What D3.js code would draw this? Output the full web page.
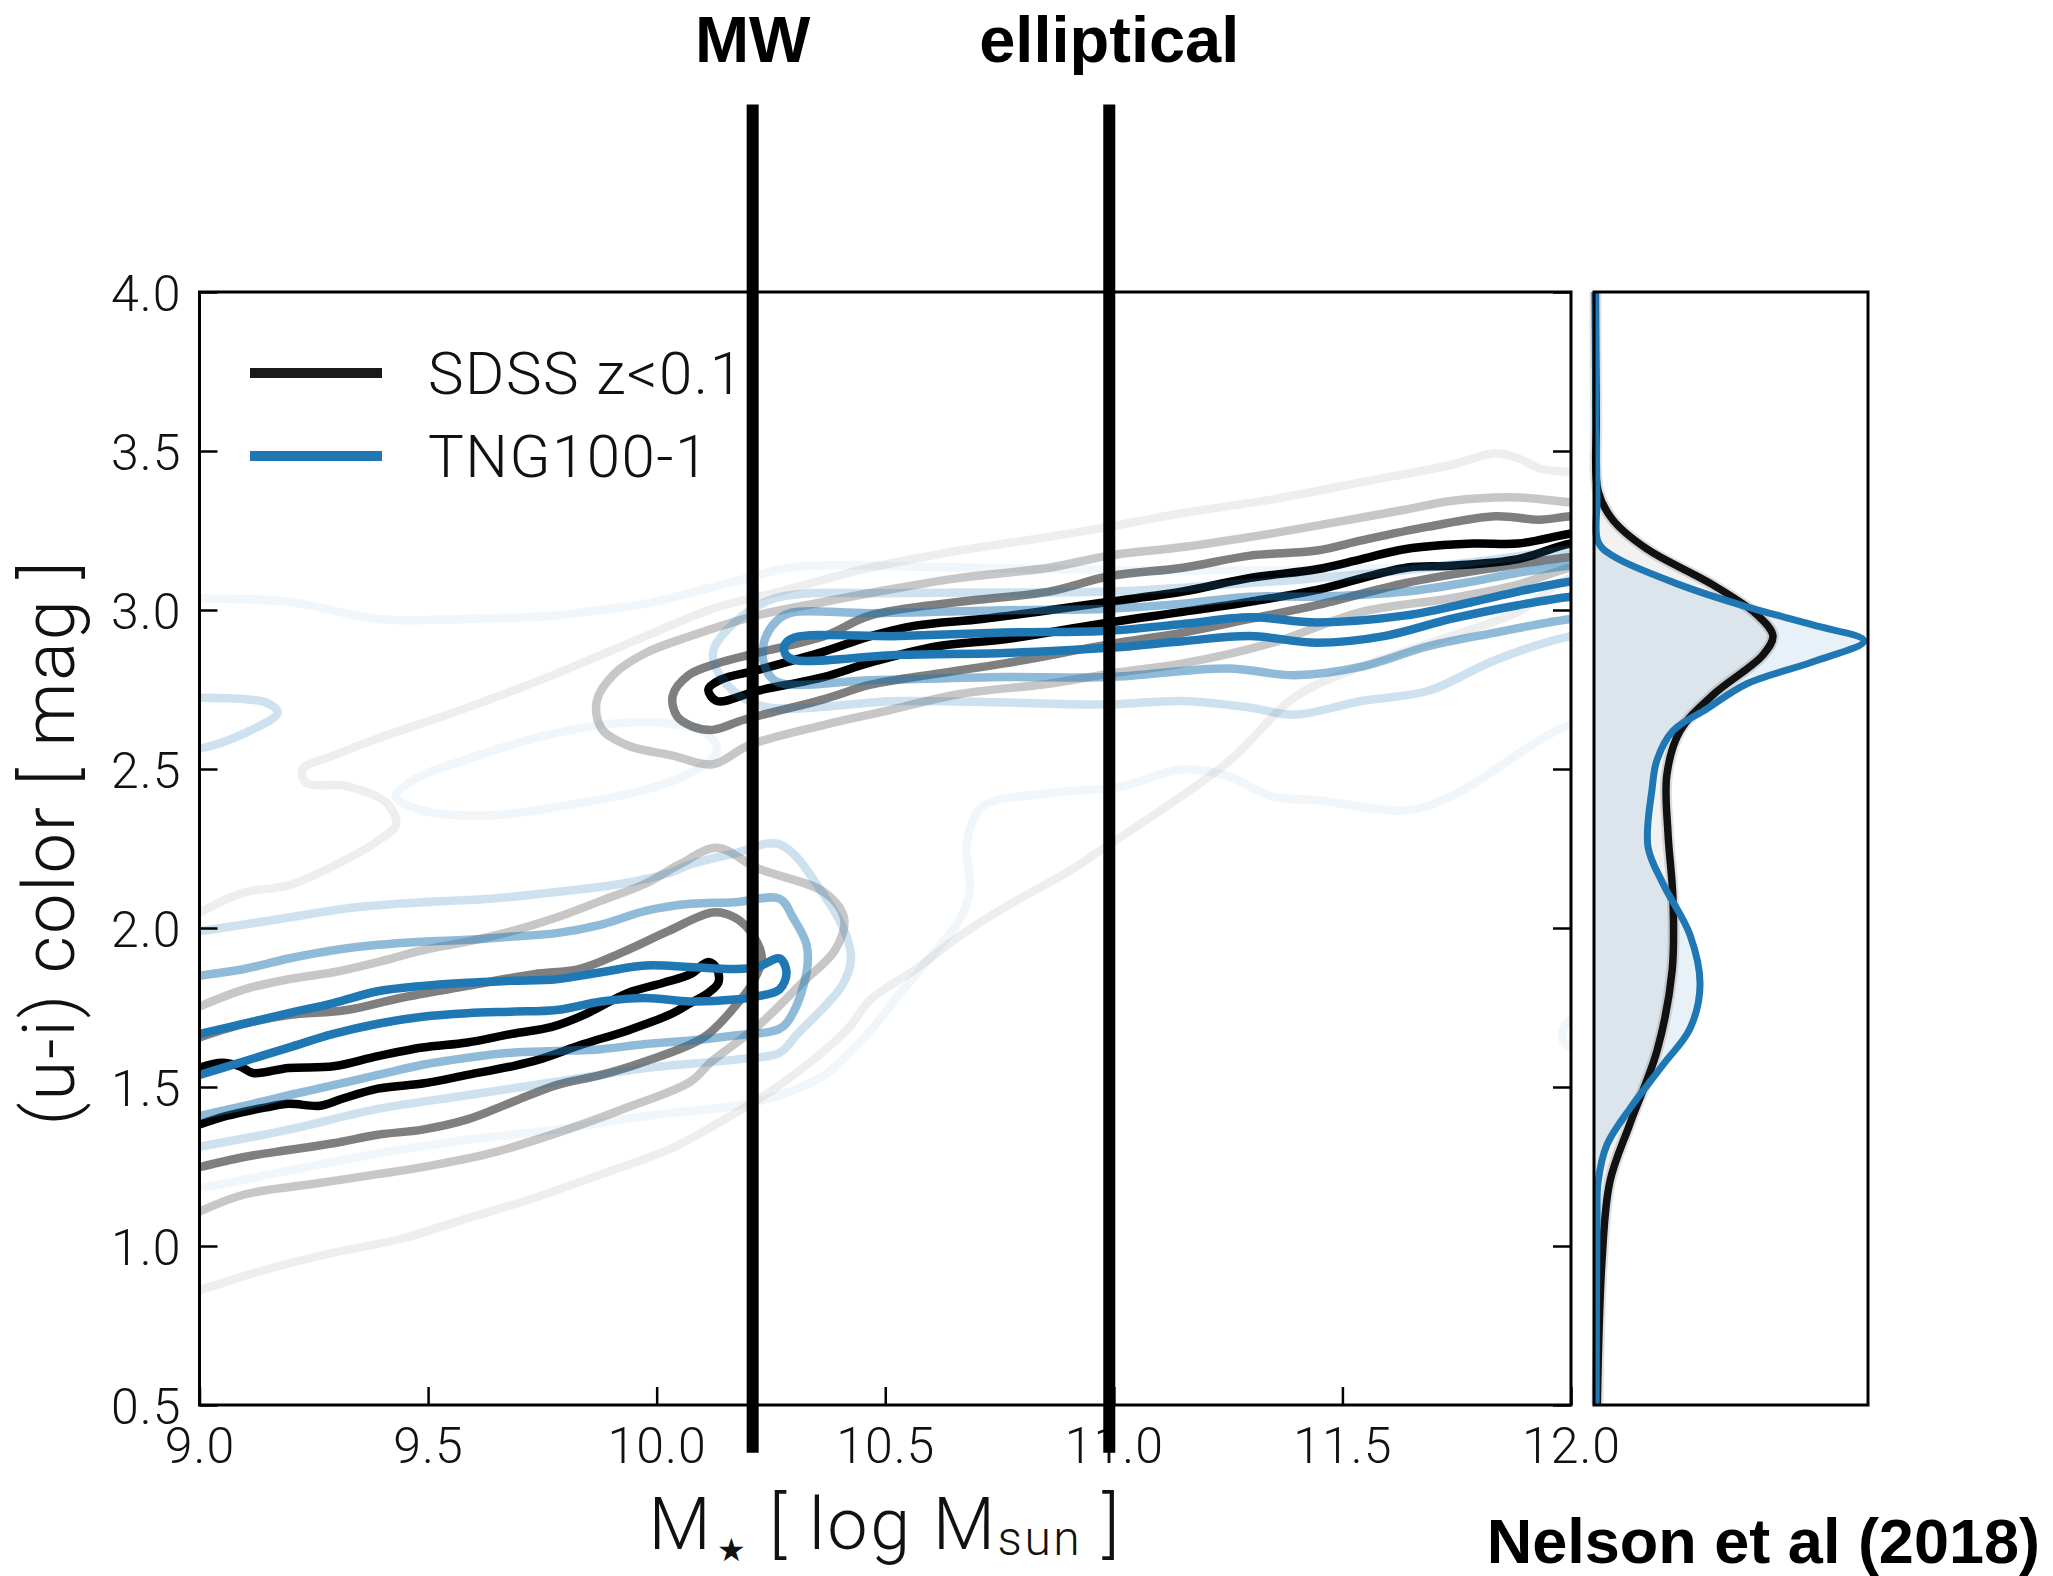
<!DOCTYPE html>
<html>
<head>
<meta charset="utf-8">
<script src="https://cdn.jsdelivr.net/npm/d3@7"></script>
<style>
  body { margin: 0; background: #fff; }
  .tick text { font-family: Roboto, "Open Sans", sans-serif; font-weight: 300; font-size: 50px; fill: #111; letter-spacing: 1px; }
  .tick line { stroke: #000; stroke-width: 2.5; }
  .domain { display: none; }
</style>
</head>
<body>
<div id="chart"></div>
<script>

/*****************************************/
/*   DATA       */
/*****************************************/

// tick labels
let xTicks = [9.0, 9.5, 10.0, 10.5, 11.0, 11.5, 12.0];
let yTicks = [0.5, 1.0, 1.5, 2.0, 2.5, 3.0, 3.5, 4.0];

// reference masses (MW, elliptical)
let markerNames = ["MW", "elliptical"];
let markerMass = [10.21, 10.99];
let markerSpan = [0.35, 4.59];

// legend
let seriesNames = ["SDSS z<0.1", "TNG100-1"];

// SDSS contours, [log M, u-i]; levels 1 (outer) .. 4 (inner)
let sdssL1 = [[9.0,2.048],[9.098,2.112],[9.195,2.134],[9.30,2.20],[9.39,2.274],[9.43,2.327],[9.41,2.392],[9.322,2.446],[9.234,2.456],[9.225,2.499],[9.293,2.542],[9.39,2.596],[9.586,2.693],[9.781,2.8],[9.976,2.918],[10.123,3.004],[10.269,3.058],[10.468,3.133],[10.663,3.187],[10.858,3.23],[10.99,3.262],[11.151,3.305],[11.347,3.348],[11.542,3.402],[11.737,3.456],[11.835,3.493],[11.884,3.477],[11.932,3.445],[12.0,3.434],[12.1,3.43],[12.1,3.09],[12.0,3.10],[11.884,2.994],[11.737,2.918],[11.542,2.822],[11.395,2.725],[11.249,2.521],[10.956,2.23],[10.907,2.183],[10.761,2.065],[10.663,1.975],[10.566,1.87],[10.468,1.775],[10.415,1.678],[10.269,1.506],[10.123,1.377],[10.025,1.302],[9.879,1.226],[9.732,1.151],[9.586,1.087],[9.439,1.022],[9.293,0.979],[9.146,0.926],[9.0,0.861]];
let sdssL2Blue = [[9.0,1.753],[9.098,1.807],[9.195,1.839],[9.293,1.861],[9.39,1.893],[9.488,1.93],[9.586,1.957],[9.683,1.99],[9.781,2.033],[9.879,2.086],[9.976,2.14],[10.05,2.2],[10.132,2.252],[10.22,2.188],[10.367,2.112],[10.41,2.03],[10.39,1.93],[10.32,1.83],[10.22,1.69],[10.12,1.58],[10.074,1.517],[9.927,1.431],[9.781,1.355],[9.635,1.291],[9.488,1.248],[9.39,1.226],[9.244,1.194],[9.098,1.162],[9.0,1.108]];
let sdssL2Red = [[12.1,3.33],[12.0,3.338],[11.884,3.354],[11.737,3.343],[11.639,3.316],[11.493,3.278],[11.347,3.241],[11.151,3.198],[10.99,3.171],[10.858,3.133],[10.663,3.101],[10.531,3.07],[10.367,3.026],[10.22,2.983],[10.074,2.918],[9.976,2.865],[9.908,2.8],[9.869,2.714],[9.879,2.628],[9.937,2.574],[10.035,2.542],[10.123,2.515],[10.201,2.574],[10.367,2.639],[10.5,2.682],[10.663,2.736],[10.858,2.768],[10.99,2.8],[11.151,2.832],[11.347,2.897],[11.542,2.994],[11.737,3.037],[11.884,3.08],[12.0,3.133],[12.1,3.15]];
let sdssL3Blue = [[9.0,1.656],[9.098,1.699],[9.195,1.726],[9.322,1.742],[9.439,1.78],[9.586,1.818],[9.732,1.855],[9.83,1.871],[9.927,1.925],[10.025,1.99],[10.123,2.049],[10.171,2.033],[10.21,1.979],[10.23,1.904],[10.21,1.828],[10.171,1.753],[10.103,1.656],[9.976,1.581],[9.879,1.538],[9.781,1.506],[9.683,1.452],[9.586,1.398],[9.488,1.366],[9.39,1.35],[9.293,1.323],[9.195,1.302],[9.098,1.28],[9.0,1.248]];
let sdssL3Red = [[12.1,3.30],[12.0,3.295],[11.932,3.284],[11.835,3.295],[11.688,3.262],[11.542,3.219],[11.444,3.187],[11.298,3.171],[11.151,3.133],[10.99,3.106],[10.858,3.058],[10.663,3.026],[10.468,2.983],[10.367,2.918],[10.22,2.865],[10.132,2.832],[10.07,2.795],[10.035,2.73],[10.045,2.665],[10.08,2.633],[10.123,2.623],[10.191,2.655],[10.367,2.72],[10.468,2.765],[10.614,2.8],[10.761,2.832],[10.99,2.892],[11.151,2.929],[11.298,2.972],[11.444,3.015],[11.639,3.085],[11.835,3.133],[12.0,3.166],[12.1,3.17]];
let sdssL4Blue = [[9.0,1.56],[9.049,1.576],[9.088,1.565],[9.117,1.544],[9.195,1.56],[9.293,1.565],[9.39,1.597],[9.488,1.624],[9.586,1.64],[9.683,1.667],[9.771,1.689],[9.84,1.726],[9.937,1.796],[10.015,1.828],[10.074,1.855],[10.113,1.893],[10.132,1.871],[10.135,1.828],[10.113,1.796],[10.074,1.764],[10.035,1.732],[9.937,1.678],[9.84,1.635],[9.742,1.586],[9.683,1.565],[9.586,1.538],[9.488,1.511],[9.39,1.495],[9.312,1.463],[9.264,1.441],[9.195,1.447],[9.146,1.436],[9.059,1.409],[9.0,1.382]];
let sdssL4Red = [[12.1,3.26],[12.0,3.241],[11.884,3.209],[11.786,3.209],[11.639,3.192],[11.542,3.16],[11.444,3.128],[11.298,3.101],[11.151,3.058],[10.99,3.026],[10.858,2.999],[10.712,2.972],[10.566,2.951],[10.468,2.918],[10.367,2.87],[10.22,2.811],[10.14,2.781],[10.113,2.75],[10.132,2.714],[10.22,2.746],[10.367,2.79],[10.468,2.835],[10.614,2.886],[10.761,2.908],[10.99,2.961],[11.151,2.994],[11.298,3.026],[11.444,3.063],[11.639,3.133],[11.737,3.139],[11.884,3.16],[12.0,3.209],[12.1,3.22]];

// TNG100-1 contours
let tngL1 = [[8.95,3.04],[9.0,3.037],[9.195,3.026],[9.39,2.972],[9.586,2.972],[9.781,2.983],[9.876,3.0],[9.976,3.02],[10.171,3.09],[10.3,3.135],[10.6,3.135],[11.0,3.126],[11.4,3.126],[11.97,3.148],[12.0,3.15],[12.1,3.15],[12.1,2.64],[12.0,2.639],[11.737,2.413],[11.639,2.37],[11.444,2.402],[11.347,2.413],[11.249,2.478],[11.151,2.499],[11.015,2.445],[10.858,2.424],[10.712,2.381],[10.678,2.263],[10.683,2.18],[10.683,2.10],[10.66,2.02],[10.60,1.91],[10.53,1.79],[10.468,1.678],[10.367,1.538],[10.269,1.474],[10.171,1.441],[9.976,1.409],[9.781,1.366],[9.586,1.334],[9.39,1.291],[9.195,1.237],[9.0,1.183],[8.95,1.18]];
let tngL1Hole = [[9.43,2.413],[9.488,2.37],[9.635,2.354],[9.781,2.381],[9.976,2.435],[10.074,2.488],[10.132,2.553],[10.113,2.607],[10.025,2.644],[9.879,2.639],[9.732,2.596],[9.586,2.531],[9.469,2.467]];
let tngL1Edge = [[12.1,1.75],[11.99,1.70],[11.985,1.64],[12.1,1.60]];
let tngL2Blue = [[9.0,1.99],[9.098,2.011],[9.195,2.033],[9.342,2.065],[9.488,2.081],[9.635,2.092],[9.781,2.113],[9.927,2.14],[10.025,2.172],[10.074,2.2],[10.171,2.235],[10.269,2.263],[10.367,2.101],[10.415,1.975],[10.425,1.9],[10.406,1.82],[10.367,1.753],[10.308,1.667],[10.269,1.608],[10.171,1.586],[9.976,1.56],[9.781,1.517],[9.586,1.474],[9.39,1.431],[9.195,1.366],[9.0,1.312]];
let tngL2Red = [[12.1,3.20],[12.0,3.19],[11.835,3.16],[11.639,3.125],[11.444,3.1],[11.249,3.08],[10.99,3.058],[10.531,3.053],[10.259,3.037],[10.171,2.961],[10.123,2.865],[10.152,2.768],[10.23,2.698],[10.531,2.714],[10.761,2.709],[10.99,2.703],[11.151,2.714],[11.298,2.693],[11.395,2.671],[11.542,2.714],[11.688,2.746],[11.835,2.843],[12.0,2.918],[12.1,2.93]];
let tngL2Edge = [[8.95,2.73],[9.0,2.725],[9.146,2.709],[9.171,2.677],[9.098,2.612],[9.0,2.564],[8.95,2.56]];
let tngL3Blue = [[9.0,1.85],[9.098,1.871],[9.195,1.904],[9.293,1.93],[9.39,1.947],[9.488,1.957],[9.586,1.963],[9.683,1.973],[9.781,1.984],[9.879,2.011],[9.976,2.054],[10.074,2.076],[10.171,2.081],[10.269,2.092],[10.298,2.033],[10.328,1.947],[10.328,1.861],[10.298,1.732],[10.269,1.683],[10.171,1.662],[10.074,1.646],[9.976,1.635],[9.879,1.619],[9.781,1.613],[9.683,1.608],[9.586,1.592],[9.488,1.57],[9.39,1.538],[9.293,1.506],[9.195,1.474],[9.098,1.441],[9.0,1.409]];
let tngL3Red = [[12.1,3.15],[12.0,3.14],[11.884,3.117],[11.786,3.09],[11.639,3.058],[11.444,3.042],[11.298,3.042],[11.151,3.02],[10.99,3.004],[10.761,2.999],[10.468,2.99],[10.293,2.991],[10.262,2.965],[10.235,2.9],[10.235,2.83],[10.262,2.775],[10.468,2.779],[10.761,2.789],[10.99,2.789],[11.249,2.816],[11.395,2.795],[11.542,2.822],[11.688,2.886],[11.835,2.929],[12.0,2.972],[12.1,2.98]];
let tngL4Blue = [[9.0,1.667],[9.098,1.699],[9.195,1.732],[9.293,1.764],[9.39,1.801],[9.488,1.818],[9.586,1.828],[9.683,1.834],[9.781,1.839],[9.879,1.861],[9.976,1.882],[10.074,1.877],[10.171,1.871],[10.22,1.877],[10.269,1.904],[10.284,1.861],[10.269,1.807],[10.22,1.785],[10.171,1.775],[10.074,1.769],[9.976,1.78],[9.879,1.769],[9.781,1.742],[9.683,1.737],[9.586,1.732],[9.488,1.721],[9.39,1.699],[9.293,1.667],[9.195,1.624],[9.098,1.581],[9.0,1.538]];
let tngL4Red = [[12.1,3.10],[12.0,3.09],[11.884,3.058],[11.786,3.026],[11.639,2.983],[11.444,2.961],[11.298,2.977],[11.151,2.956],[10.99,2.935],[10.761,2.929],[10.531,2.918],[10.30,2.913],[10.28,2.89],[10.282,2.86],[10.30,2.843],[10.531,2.859],[10.761,2.865],[10.99,2.881],[11.151,2.902],[11.298,2.918],[11.444,2.897],[11.591,2.918],[11.737,2.972],[11.884,3.015],[12.0,3.042],[12.1,3.05]];

// marginal (u-i) distributions, density scaled so TNG peak ~ 1
let sdssSideY = [4.0, 3.6, 3.374, 3.283, 3.192, 3.079, 2.985, 2.919, 2.859, 2.733, 2.62, 2.482, 2.299, 2.095, 1.865, 1.614, 1.384, 1.202, 0.951, 0.5];
let sdssSideDens = [0.005, 0.008, 0.015, 0.069, 0.193, 0.434, 0.595, 0.653, 0.617, 0.434, 0.314, 0.266, 0.27, 0.288, 0.285, 0.23, 0.131, 0.058, 0.029, 0.012];
let tngSideY = [4.0, 3.6, 3.352, 3.214, 3.17, 3.079, 3.01, 2.953, 2.903, 2.837, 2.768, 2.689, 2.62, 2.529, 2.438, 2.255, 2.139, 1.979, 1.821, 1.683, 1.57, 1.432, 1.318, 1.202, 1.067, 0.5];
let tngSideDens = [0.005, 0.007, 0.011, 0.015, 0.069, 0.314, 0.558, 0.799, 0.985, 0.799, 0.558, 0.412, 0.288, 0.23, 0.212, 0.197, 0.252, 0.35, 0.387, 0.35, 0.252, 0.131, 0.047, 0.015, 0.011, 0.008];

// contour list: [points, family, level, closed]
let contours = [
    [sdssL1, "sdss", 1, false],
    [sdssL2Blue, "sdss", 2, false], [sdssL2Red, "sdss", 2, false],
    [sdssL3Blue, "sdss", 3, false], [sdssL3Red, "sdss", 3, false],
    [sdssL4Blue, "sdss", 4, false], [sdssL4Red, "sdss", 4, false],
    [tngL1, "tng", 1, false], [tngL1Hole, "tng", 1, true], [tngL1Edge, "tng", 1, false],
    [tngL2Blue, "tng", 2, false], [tngL2Red, "tng", 2, false], [tngL2Edge, "tng", 2, false],
    [tngL3Blue, "tng", 3, false], [tngL3Red, "tng", 3, false],
    [tngL4Blue, "tng", 4, false], [tngL4Red, "tng", 4, false]
];

/*****************************************/
/*   CHART                               */
/*****************************************/

let W = 2053, H = 1576;
let plot = {left: 199.5, right: 1571, top: 292, bottom: 1405};
let side = {left: 1594, right: 1868};

let colors = {sdss: "#000000", tng: "#1f77b4"};
let levelAlpha = {1: 0.065, 2: 0.22, 3: 0.5, 4: 1.0};

let svg = d3.select("#chart").append("svg")
    .attr("width", W)
    .attr("height", H)
    .style("font-family", "Roboto, 'Open Sans', sans-serif");

let x = d3.scaleLinear().domain([9, 12]).range([plot.left, plot.right]);
let y = d3.scaleLinear().domain([0.5, 4]).range([plot.bottom, plot.top]);
let sx = d3.scaleLinear().domain([0, 1]).range([side.left, side.right]);

svg.append("defs").append("clipPath")
    .attr("id", "plotClip")
    .append("rect")
    .attr("x", plot.left)
    .attr("y", plot.top)
    .attr("width", plot.right - plot.left)
    .attr("height", plot.bottom - plot.top);

// CONTOURS
let lineOpen = d3.line().x(d => x(d[0])).y(d => y(d[1])).curve(d3.curveCatmullRom.alpha(0.5));
let lineClosed = d3.line().x(d => x(d[0])).y(d => y(d[1])).curve(d3.curveCatmullRomClosed.alpha(0.5));

let contourGroup = svg.append("g").attr("clip-path", "url(#plotClip)");

contourGroup.selectAll(".contour")
    .data(contours)
    .enter()
    .append("path")
    .attr("class", "contour")
    .attr("d", d => d[3] ? lineClosed(d[0]) : lineOpen(d[0]))
    .attr("fill", "none")
    .attr("stroke", d => colors[d[1]])
    .attr("stroke-opacity", d => levelAlpha[d[2]])
    .attr("stroke-width", 8.5)
    .attr("stroke-linejoin", "round");

// AXES
let xAxis = d3.axisBottom(x).tickValues(xTicks).tickFormat(d3.format(".1f"))
    .tickSizeInner(-18).tickSizeOuter(0).tickPadding(22);
let yAxis = d3.axisLeft(y).tickValues(yTicks).tickFormat(d3.format(".1f"))
    .tickSizeInner(-18).tickSizeOuter(0).tickPadding(18);
let yAxisRight = d3.axisRight(y).tickValues(yTicks).tickFormat("")
    .tickSizeInner(-18).tickSizeOuter(0);

svg.append("g")
    .attr("class", "x-axis axis")
    .attr("transform", "translate(0," + plot.bottom + ")")
    .call(xAxis);

svg.append("g")
    .attr("class", "y-axis axis")
    .attr("transform", "translate(" + plot.left + ",0)")
    .call(yAxis);

svg.append("g")
    .attr("class", "y-axis-right axis")
    .attr("transform", "translate(" + plot.right + ",0)")
    .call(yAxisRight);

svg.selectAll(".y-axis .tick text").attr("dy", "0.36em");

// frame
svg.append("rect")
    .attr("x", plot.left)
    .attr("y", plot.top)
    .attr("width", plot.right - plot.left)
    .attr("height", plot.bottom - plot.top)
    .attr("fill", "none")
    .attr("stroke", "#000")
    .attr("stroke-width", 3);

// SIDE PANEL
let sideArea = (ys, vals) => d3.area()
    .y((d, i) => y(ys[i]))
    .x0(sx(0))
    .x1((d, i) => sx(vals[i]))
    .curve(d3.curveCatmullRom.alpha(0.5))(vals);
let sideLine = (ys, vals) => d3.line()
    .y((d, i) => y(ys[i]))
    .x((d, i) => sx(vals[i]))
    .curve(d3.curveCatmullRom.alpha(0.5))(vals);

svg.append("path")
    .attr("d", sideArea(sdssSideY, sdssSideDens))
    .attr("fill", "#000")
    .attr("fill-opacity", 0.05);

svg.append("path")
    .attr("d", sideArea(tngSideY, tngSideDens))
    .attr("fill", colors.tng)
    .attr("fill-opacity", 0.1);

// faint halo under the SDSS curve
svg.append("path")
    .attr("d", sideLine(sdssSideY, sdssSideDens))
    .attr("fill", "none")
    .attr("stroke", "#000")
    .attr("stroke-opacity", 0.12)
    .attr("stroke-width", 12);

svg.append("path")
    .attr("d", sideLine(sdssSideY, sdssSideDens))
    .attr("fill", "none")
    .attr("stroke", "#111")
    .attr("stroke-width", 7.5);

svg.append("path")
    .attr("d", sideLine(tngSideY, tngSideDens))
    .attr("fill", "none")
    .attr("stroke", colors.tng)
    .attr("stroke-width", 7);

svg.append("rect")
    .attr("x", side.left)
    .attr("y", plot.top)
    .attr("width", side.right - side.left)
    .attr("height", plot.bottom - plot.top)
    .attr("fill", "none")
    .attr("stroke", "#000")
    .attr("stroke-width", 3);

// MARKER LINES
svg.selectAll(".marker")
    .data(markerMass)
    .enter()
    .append("line")
    .attr("class", "marker")
    .attr("x1", d => x(d))
    .attr("x2", d => x(d))
    .attr("y1", y(markerSpan[0]))
    .attr("y2", y(markerSpan[1]))
    .attr("stroke", "#000")
    .attr("stroke-width", 12);

svg.selectAll(".marker-label")
    .data(markerNames)
    .enter()
    .append("text")
    .attr("class", "marker-label")
    .attr("x", (d, i) => x(markerMass[i]))
    .attr("y", 62)
    .attr("text-anchor", "middle")
    .style("font-family", "'Liberation Sans', Arial, sans-serif")
    .style("font-weight", "bold")
    .style("font-size", "65px")
    .text(d => d);

// LEGEND
let legend = svg.append("g").attr("class", "legend");
seriesNames.forEach((name, i) => {
    let ly = 373 + i * 83;
    legend.append("line")
        .attr("x1", 250).attr("x2", 382)
        .attr("y1", ly).attr("y2", ly)
        .attr("stroke", i === 0 ? "#1a1a1a" : colors.tng)
        .attr("stroke-width", 10);
    legend.append("text")
        .attr("x", 428)
        .attr("y", ly + 21)
        .style("font-weight", 300)
        .style("font-size", "60px")
        .style("letter-spacing", "1.5px")
        .attr("fill", "#111")
        .text(name);
});

// AXIS LABELS
svg.append("text")
    .attr("transform", "translate(74," + ((plot.top + plot.bottom) / 2 - 6) + ") rotate(-90)")
    .attr("text-anchor", "middle")
    .style("font-weight", 300)
    .style("font-size", "72px")
    .style("letter-spacing", "2px")
    .attr("fill", "#111")
    .text("(u-i) color [ mag ]");

let xLabel = svg.append("text")
    .attr("x", (plot.left + plot.right) / 2)
    .attr("y", 1549)
    .attr("text-anchor", "middle")
    .style("font-weight", 300)
    .style("font-size", "72px")
    .style("letter-spacing", "2.5px")
    .attr("fill", "#111");
xLabel.append("tspan").text("M");
xLabel.append("tspan").attr("dx", 4).attr("dy", 12).style("font-size", "32px").text("\u2605");
xLabel.append("tspan").attr("dy", -12).text("  [ log M");
xLabel.append("tspan").attr("dy", 6).style("font-size", "48px").text("sun");
xLabel.append("tspan").attr("dy", -6).text(" ]");

// CREDIT
svg.append("text")
    .attr("x", 2040)
    .attr("y", 1563)
    .attr("text-anchor", "end")
    .style("font-family", "'Liberation Sans', Arial, sans-serif")
    .style("font-weight", "bold")
    .style("font-size", "63px")
    .text("Nelson et al (2018)");

</script>
</body>
</html>
